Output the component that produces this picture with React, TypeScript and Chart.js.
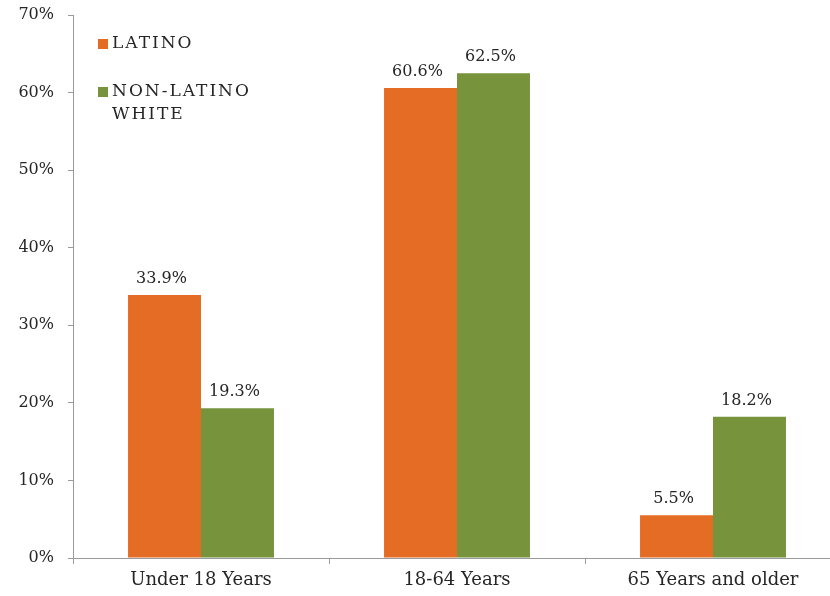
import React, { useEffect, useRef } from "react";
import { Chart, registerables } from "chart.js";

Chart.register(...registerables);

const categories = ["Under 18 Years", "18-64 Years", "65 Years and older"];
const latino = [33.9, 60.6, 5.5];
const nonLatinoWhite = [19.3, 62.5, 18.2];
const seriesNames = [["LATINO"], ["NON-LATINO", "WHITE"]];
const seriesColors = ["#E46C24", "#77933C"];
const yTicks = [0, 10, 20, 30, 40, 50, 60, 70];

const FONT = "'DejaVu Serif', 'Liberation Serif', serif";
const TEXT = "#262626";
const AXIS = "#9a9a9a";

// value labels above each bar
const barLabels = {
  id: "barLabels",
  afterDatasetsDraw(chart: any) {
    const ctx = chart.ctx;
    ctx.save();
    ctx.font = `16px ${FONT}`;
    ctx.fillStyle = TEXT;
    ctx.textAlign = "center";
    ctx.textBaseline = "alphabetic";
    chart.data.datasets.forEach((ds: any, i: number) => {
      const meta = chart.getDatasetMeta(i);
      meta.data.forEach((bar: any, j: number) => {
        ctx.fillText(ds.data[j].toFixed(1) + "%", bar.x - 3, bar.y - 12);
      });
    });
    ctx.restore();
  },
};

// legend drawn inside the plot area, top-left
const insideLegend = {
  id: "insideLegend",
  afterDraw(chart: any) {
    const ctx = chart.ctx;
    const left = chart.chartArea.left + 25;
    const rows = [44, 92];
    ctx.save();
    ctx.letterSpacing = "2px";
    ctx.font = `17px ${FONT}`;
    ctx.textBaseline = "middle";
    ctx.textAlign = "left";
    seriesNames.forEach((lines, i) => {
      ctx.fillStyle = seriesColors[i];
      ctx.fillRect(left, rows[i] - 5, 10, 10);
      ctx.fillStyle = TEXT;
      lines.forEach((line, k) => {
        ctx.fillText(line, left + 14, rows[i] + k * 23);
      });
    });
    ctx.restore();
  },
};

export default function App() {
  const ref = useRef<HTMLCanvasElement | null>(null);

  useEffect(() => {
    if (!ref.current) return;
    const chart = new Chart(ref.current, {
      type: "bar",
      data: {
        labels: categories,
        datasets: [
          {
            label: seriesNames[0].join(" "),
            data: latino,
            backgroundColor: seriesColors[0],
            borderWidth: 0,
          },
          {
            label: seriesNames[1].join(" "),
            data: nonLatinoWhite,
            backgroundColor: seriesColors[1],
            borderWidth: 0,
          },
        ],
      },
      options: {
        responsive: false,
        animation: false,
        layout: { padding: { top: 15, right: 4, left: 0, bottom: 0 } },
        datasets: {
          bar: { categoryPercentage: 0.57, barPercentage: 1.0 },
        },
        plugins: {
          legend: { display: false },
          tooltip: { enabled: false },
        },
        scales: {
          x: {
            grid: {
              display: true,
              drawOnChartArea: false,
              drawTicks: true,
              tickLength: 6,
              color: AXIS,
              offset: true,
            },
            border: { display: true, color: AXIS, width: 1 },
            ticks: {
              color: TEXT,
              font: { family: FONT, size: 18 },
              padding: 6,
            },
            afterFit(scale: any) {
              scale.height = 38;
            },
          },
          y: {
            min: 0,
            max: 70,
            afterBuildTicks(scale: any) {
              scale.ticks = yTicks.map((v) => ({ value: v }));
            },
            grid: {
              display: true,
              drawOnChartArea: false,
              drawTicks: true,
              tickLength: 5,
              color: AXIS,
            },
            border: { display: true, color: AXIS, width: 1 },
            ticks: {
              color: TEXT,
              font: { family: FONT, size: 16, lineHeight: 1.0 },
              padding: 14,
              callback: (v: any) => v + "%",
            },
            afterFit(scale: any) {
              scale.width = 73;
              scale.paddingTop = 0;
            },
          },
        },
      },
      plugins: [barLabels, insideLegend],
    });
    return () => chart.destroy();
  }, []);

  return (
    <div
      style={{
        position: "absolute",
        left: 0,
        top: 0,
        width: 830,
        height: 596,
        overflow: "hidden",
        background: "#ffffff",
      }}
    >
      <canvas ref={ref} width={845} height={596} />
    </div>
  );
}
